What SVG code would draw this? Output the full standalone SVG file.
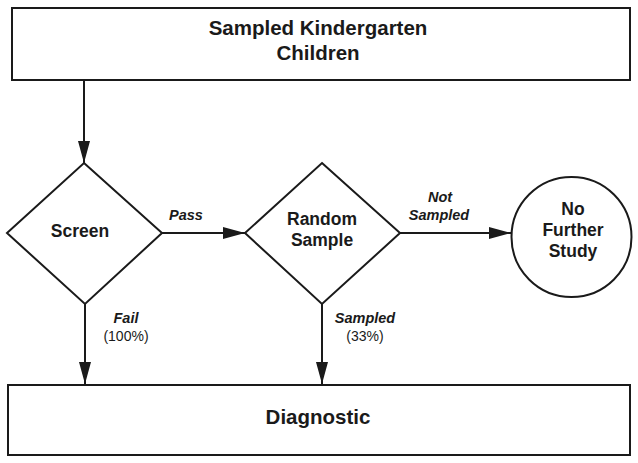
<svg xmlns="http://www.w3.org/2000/svg" width="638" height="463" viewBox="0 0 638 463">
<style>
.shape{fill:#fff;stroke:#1a1a1a;stroke-width:2}
.conn{fill:none;stroke:#1a1a1a;stroke-width:2}
.big{font-family:"Liberation Sans",Arial,sans-serif;font-weight:bold;font-size:20.5px;fill:#1a1a1a;text-anchor:middle}
.mid{font-family:"Liberation Sans",Arial,sans-serif;font-weight:bold;font-size:17.5px;fill:#1a1a1a;text-anchor:middle}
.lab{font-family:"Liberation Sans",Arial,sans-serif;font-weight:bold;font-style:italic;font-size:14.5px;fill:#1a1a1a;text-anchor:middle}
.pct{font-family:"Liberation Sans",Arial,sans-serif;font-size:14px;fill:#1a1a1a;text-anchor:middle}
</style>
<defs>
<marker id="arr" markerUnits="userSpaceOnUse" markerWidth="22" markerHeight="12" refX="22" refY="6" orient="auto">
<path d="M0,0 L22,6 L0,12 z" fill="#1a1a1a"/>
</marker>
</defs>
<rect width="638" height="463" fill="#fff"/>
<g id="connectors">
<line class="conn" x1="84" y1="80" x2="84" y2="163" marker-end="url(#arr)"/>
<line class="conn" x1="162" y1="233" x2="245" y2="233" marker-end="url(#arr)"/>
<line class="conn" x1="400" y1="233" x2="511" y2="233" marker-end="url(#arr)"/>
<line class="conn" x1="85" y1="304" x2="85" y2="384" marker-end="url(#arr)"/>
<line class="conn" x1="322" y1="304" x2="322" y2="384" marker-end="url(#arr)"/>
<text class="lab" x="186" y="220">Pass</text>
<text class="lab" x="126" y="323">Fail</text>
<text class="pct" x="126" y="341">(100%)</text>
<text class="lab" x="440" y="202">Not</text>
<text class="lab" x="439" y="220">Sampled</text>
<text class="lab" x="365" y="323">Sampled</text>
<text class="pct" x="365" y="341">(33%)</text>
</g>
<g id="sampled">
<rect class="shape" x="12" y="8" width="618" height="72"/>
<text class="big" x="318" y="35">Sampled Kindergarten</text>
<text class="big" x="318" y="60">Children</text>
</g>
<g id="screen">
<polygon class="shape" points="84,163 162,233 85,304 7,233"/>
<text class="mid" x="80" y="237">Screen</text>
</g>
<g id="random">
<polygon class="shape" points="322,163 400,233 322,304 245,233"/>
<text class="mid" x="322" y="225">Random</text>
<text class="mid" x="322" y="246">Sample</text>
</g>
<g id="nofurther">
<circle class="shape" cx="571.5" cy="237" r="60"/>
<text class="mid" x="573" y="215">No</text>
<text class="mid" x="573" y="236">Further</text>
<text class="mid" x="573" y="257">Study</text>
</g>
<g id="diagnostic">
<rect class="shape" x="8" y="385" width="622" height="70"/>
<text class="big" x="318" y="424">Diagnostic</text>
</g>
</svg>
